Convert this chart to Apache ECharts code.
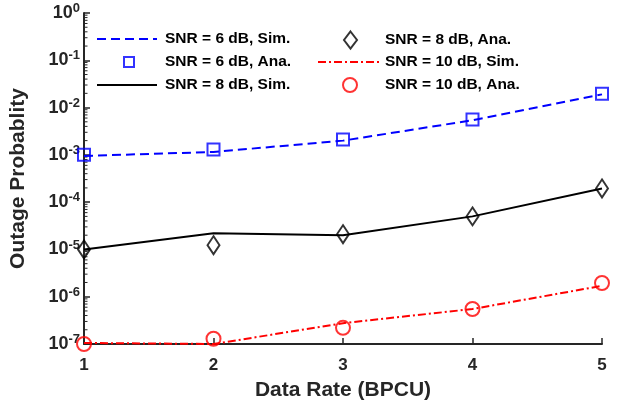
<!DOCTYPE html>
<html>
<head>
<meta charset="utf-8">
<script src="https://cdn.jsdelivr.net/npm/echarts@6/dist/echarts.min.js"></script>
<style>
  html, body { margin: 0; padding: 0; background: #fff; }
  #chart { width: 620px; height: 406px; }
</style>
</head>
<body>
<div id="chart"></div>
<script>
var rates = [1, 2, 3, 4, 5];

var snr6Sim = [9.5e-4, 1.15e-3, 2.0e-3, 5.4e-3, 1.9e-2];
var snr6Ana = [1.0e-3, 1.3e-3, 2.1e-3, 5.6e-3, 1.95e-2];
var snr8Sim = [1.0e-5, 2.2e-5, 2.0e-5, 5.0e-5, 1.95e-4];
var snr8Ana = [1.0e-5, 1.23e-5, 2.1e-5, 5.0e-5, 1.95e-4];
var snr10Sim = [1.05e-7, 1.0e-7, 2.75e-7, 5.5e-7, 1.7e-6];
var snr10Ana = [1.0e-7, 1.29e-7, 2.2e-7, 5.5e-7, 1.95e-6];

var seriesNames = ['SNR = 6 dB, Sim.', 'SNR = 6 dB, Ana.', 'SNR = 8 dB, Sim.',
                   'SNR = 8 dB, Ana.', 'SNR = 10 dB, Sim.', 'SNR = 10 dB, Ana.'];

// minor ticks on the log axis: 2..9 x 10^k
var minorMantissas = [2, 3, 4, 5, 6, 7, 8, 9];
var minorDecades = [-7, -6, -5, -4, -3, -2, -1];

function pairs(ys) {
    return rates.map(function (x, i) { return [x, ys[i]]; });
}

var minorTicks = [];
minorDecades.forEach(function (k) {
    minorMantissas.forEach(function (m) { minorTicks.push([1, m * Math.pow(10, k)]); });
});

var font = 'Liberation Sans';
var dark = '#262626';

// one legend per entry so that lines and markers get their own icon sizes
// [left, row centre, icon width, icon height, text pad, is line]
var legendSlots = [
    [96, 39, 60, 14, 3, true],
    [123, 62, 10, 10, 26, false],
    [96, 85, 60, 14, 3, true],
    [343, 39, 13, 17, 23, false],
    [317, 62, 62, 14, 0, true],
    [342, 85, 14, 14, 23, false]
];
var legends = legendSlots.map(function (s, i) {
    var item = { name: seriesNames[i] };
    if (s[5]) item.itemStyle = { opacity: 0 };
    return {
        left: s[0], top: s[1] - Math.max(s[3], 16) / 2, orient: 'horizontal',
        itemWidth: s[2], itemHeight: s[3], padding: 0, selectedMode: false,
        textStyle: { fontFamily: font, fontWeight: 'bold', fontSize: 15.5, color: '#000', padding: [0, 0, 0, s[4]] },
        data: [item]
    };
});

var myChart = echarts.init(document.getElementById('chart'));
var option = {
    animation: false,
    textStyle: { fontFamily: font },
    grid: { left: 83, right: 18, top: 13, bottom: 59, containLabel: false },
    legend: legends,
    xAxis: {
        type: 'value', min: 1, max: 5, interval: 1,
        name: 'Data Rate (BPCU)', nameLocation: 'middle', nameGap: 36,
        nameTextStyle: { fontFamily: font, fontWeight: 'bold', fontSize: 21, color: dark },
        axisLine: { lineStyle: { color: dark, width: 2 } },
        axisTick: { inside: true, length: 6, lineStyle: { color: dark, width: 1.5 } },
        axisLabel: { fontFamily: font, fontWeight: 'bold', fontSize: 17, color: dark, margin: 13 },
        splitLine: { show: false }
    },
    yAxis: {
        type: 'log', logBase: 10, min: 1e-7, max: 1,
        name: 'Outage Probablity', nameLocation: 'middle', nameGap: 55, nameRotate: 90,
        nameTextStyle: { fontFamily: font, fontWeight: 'bold', fontSize: 21, color: dark },
        axisLine: { show: true, lineStyle: { color: dark, width: 2 } },
        axisTick: { inside: true, length: 6, lineStyle: { color: dark, width: 1.5 } },
        axisLabel: {
            margin: 4,
            formatter: function (v) {
                var e = Math.round(Math.log10(v));
                return '{b|10}{e|' + e + '}';
            },
            rich: {
                b: { fontFamily: font, fontWeight: 'bold', fontSize: 18, color: dark },
                e: { fontFamily: font, fontWeight: 'bold', fontSize: 13, color: dark, padding: [0, 0, 9, 0] }
            }
        },
        splitLine: { show: false }
    },
    series: [{
        name: seriesNames[0], type: 'line', data: pairs(snr6Sim), symbol: 'none',
        lineStyle: { color: '#0000ff', width: 2, type: [9, 5] }, itemStyle: { color: '#0000ff' }
    }, {
        name: seriesNames[1], type: 'scatter', data: pairs(snr6Ana), symbol: 'rect', symbolSize: 12, z: 5,
        itemStyle: { color: 'rgba(0,0,0,0)', borderColor: '#0000ff', borderWidth: 2 }
    }, {
        name: seriesNames[2], type: 'line', data: pairs(snr8Sim), symbol: 'none',
        lineStyle: { color: '#000', width: 2 }, itemStyle: { color: '#000' }
    }, {
        name: seriesNames[3], type: 'scatter', data: pairs(snr8Ana), symbol: 'diamond', symbolSize: [12, 18], z: 5,
        itemStyle: { color: 'rgba(0,0,0,0)', borderColor: '#000', borderWidth: 2 }
    }, {
        name: seriesNames[4], type: 'line', data: pairs(snr10Sim), symbol: 'none',
        lineStyle: { color: '#ff0000', width: 2, type: [8, 3, 2, 3] }, itemStyle: { color: '#ff0000' }
    }, {
        name: seriesNames[5], type: 'scatter', data: pairs(snr10Ana), symbol: 'circle', symbolSize: 14, z: 5,
        itemStyle: { color: 'rgba(0,0,0,0)', borderColor: '#ff0000', borderWidth: 2 }
    }, {
        type: 'custom', silent: true, data: minorTicks, z: 1,
        renderItem: function (params, api) {
            var p = api.coord([api.value(0), api.value(1)]);
            return {
                type: 'line',
                shape: { x1: p[0], y1: p[1], x2: p[0] + 3.5, y2: p[1] },
                style: { stroke: dark, lineWidth: 1 }
            };
        }
    }]
};
myChart.setOption(option);
</script>
</body>
</html>
